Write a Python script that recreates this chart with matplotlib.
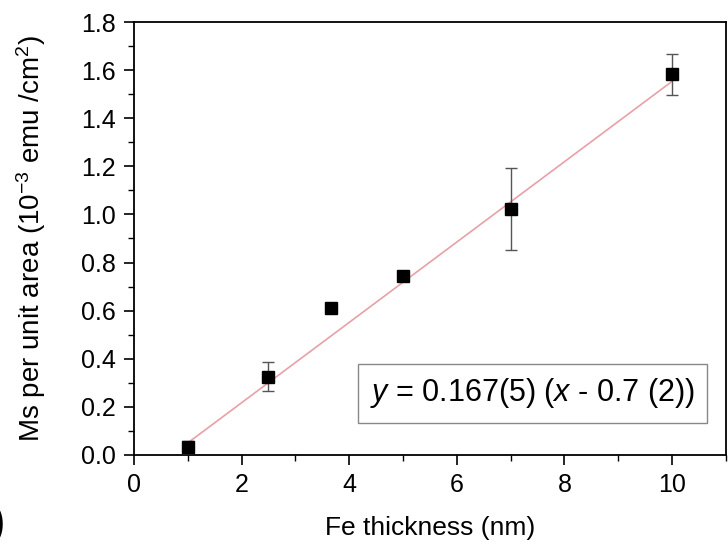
import numpy as np
import matplotlib
matplotlib.use('Agg')
import matplotlib.pyplot as plt
from matplotlib.ticker import MultipleLocator

plt.rcParams['font.family'] = ['Liberation Sans', 'DejaVu Sans']
plt.rcParams['mathtext.fontset'] = 'custom'
plt.rcParams['mathtext.rm'] = 'Liberation Sans'
plt.rcParams['mathtext.it'] = 'Liberation Sans:italic'

# data
thickness = [1.0, 2.5, 3.66, 5.0, 7.0, 10.0]
ms_area = [0.035, 0.325, 0.61, 0.744, 1.021, 1.583]
ms_err = [0.025, 0.06, 0.01, 0.015, 0.17, 0.085]

# linear fit y = a (x - x0)
slope = 0.167
x0 = 0.7
fit_x = np.array([1.0, 10.0])
fit_y = slope * (fit_x - x0)

fig = plt.figure(figsize=(7.28, 5.46), dpi=100)
ax = fig.add_axes([0.184, 0.1667, 0.813, 0.793])

ax.plot(fit_x, fit_y, color='#e8a0a8', lw=1.2, zorder=1)
ax.errorbar(thickness, ms_area, yerr=ms_err, fmt='s', color='black',
            ms=8, ecolor='#555555', elinewidth=1, capsize=4, capthick=1, zorder=3)

ax.set_xlim(0, 11)
ax.set_ylim(0, 1.8)
ax.xaxis.set_major_locator(MultipleLocator(2))
ax.xaxis.set_minor_locator(MultipleLocator(1))
ax.yaxis.set_major_locator(MultipleLocator(0.2))
ax.yaxis.set_minor_locator(MultipleLocator(0.1))
ax.yaxis.set_major_formatter(matplotlib.ticker.FormatStrFormatter('%.1f'))
ax.tick_params(which='major', direction='out', length=7, width=1.2,
               labelsize=18, pad=6)
ax.tick_params(which='minor', direction='out', length=4, width=1.0)
for s in ax.spines.values():
    s.set_linewidth(1.3)

ax.set_xlabel('Fe thickness (nm)', fontsize=19, labelpad=14)
ax.set_ylabel('Ms per unit area (10$^{-3}$ emu /cm$^2$)', fontsize=20, labelpad=24)

ax.text(0.948, 0.142, '$y$ = 0.167(5) ($x$ - 0.7 (2))', transform=ax.transAxes,
        fontsize=22, ha='right', va='center',
        bbox=dict(boxstyle='square,pad=0.4', fc='white', ec='#888888', lw=1))

fig.text(-0.014, 0.0, ')', fontsize=34, ha='left', va='bottom')

fig.savefig('out.png', dpi=100)
